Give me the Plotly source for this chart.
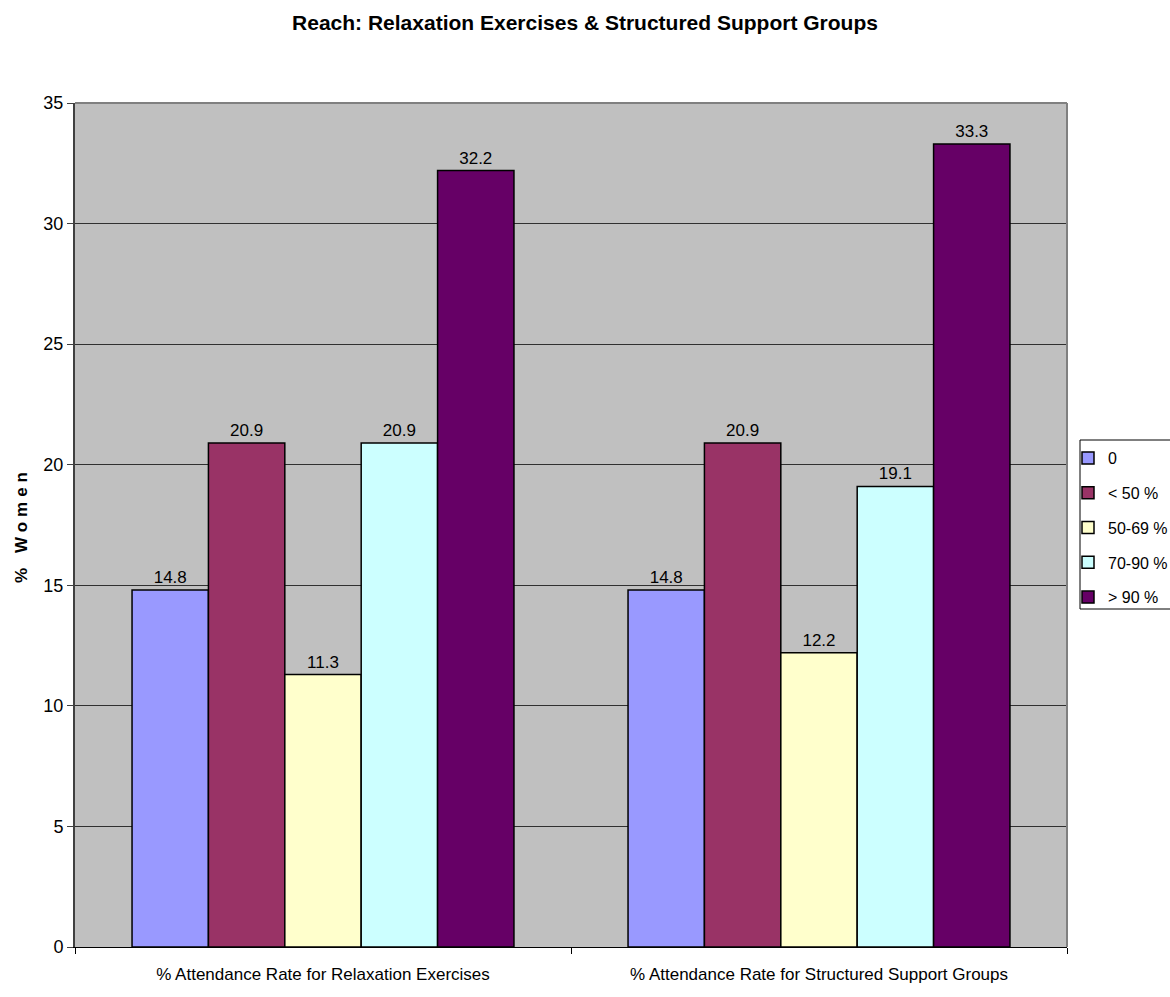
import plotly.graph_objects as go

categories = ["% Attendance Rate for Relaxation Exercises",
              "% Attendance Rate for Structured Support Groups"]
series_names = ["0", "< 50 %", "50-69 %", "70-90 %", "> 90 %"]
values_0 = [14.8, 14.8]
values_lt50 = [20.9, 20.9]
values_50_69 = [11.3, 12.2]
values_70_90 = [20.9, 19.1]
values_gt90 = [32.2, 33.3]
y_ticks = [0, 5, 10, 15, 20, 25, 30, 35]

series_values = [values_0, values_lt50, values_50_69, values_70_90, values_gt90]
colors = ["#9999FF", "#993366", "#FFFFCC", "#CCFFFF", "#660066"]

FONT = "Liberation Sans, Arial, sans-serif"

fig = go.Figure()
for name, vals, col in zip(series_names, series_values, colors):
    fig.add_trace(go.Bar(
        x=categories, y=vals, name=name, legendgroup=name,
        marker=dict(color=col, line=dict(color="black", width=1.5)),
        text=[f"{v:.1f}" for v in vals], textposition="outside",
        textfont=dict(family=FONT, size=17, color="black"),
        cliponaxis=False,
    ))

# figure is wider than the 1170px window so the legend box is clipped at the right edge
W = 1210
L, R, T, B = 75, 143, 103, 50
PW = W - L - R          # 992
PH = 997 - T - B        # 844

def px_x(x):
    return (x - L) / PW

def px_y(y):
    return (997 - B - y) / PH

fig.update_layout(
    width=W, height=997, autosize=False,
    barmode="group", bargap=0.23, bargroupgap=0,
    plot_bgcolor="#C0C0C0", paper_bgcolor="white",
    margin=dict(l=L, r=R, t=T, b=B),
    font=dict(family=FONT, size=17, color="black"),
    title=dict(text="<b>Reach: Relaxation Exercises & Structured Support Groups</b>",
               x=585 / W, xanchor="center", y=0.977, yanchor="middle",
               font=dict(size=21)),
    legend=dict(x=px_x(1068), y=px_y(441), xanchor="left", yanchor="top",
                borderwidth=0, bgcolor="rgba(0,0,0,0)",
                font=dict(size=16), tracegroupgap=11, itemwidth=30),
    showlegend=True,
)
fig.update_yaxes(
    range=[0, 35], tickvals=y_ticks, showgrid=True, gridcolor="#303030", gridwidth=1,
    showline=True, linecolor="#404040", linewidth=2, ticks="outside", ticklen=6,
    tickcolor="#404040", mirror=False, zeroline=False,
    title=dict(text="<b>% Women</b>", font=dict(size=17), standoff=11),
    tickfont=dict(size=18),
)
fig.update_xaxes(
    showline=True, linecolor="black", linewidth=1, ticks="outside", ticklen=6,
    tickson="boundaries", tickcolor="black", tickfont=dict(size=17),
    ticklabelstandoff=12,
)
# plot area frame (top and right)
fig.add_shape(type="line", xref="paper", yref="paper", x0=0, x1=1, y0=1, y1=1,
              line=dict(color="#808080", width=2))
fig.add_shape(type="line", xref="paper", yref="paper", x0=1, x1=1, y0=0, y1=1,
              line=dict(color="#808080", width=2))
# legend frame
fig.add_shape(type="rect", xref="paper", yref="paper",
              x0=px_x(1080), x1=px_x(1200), y0=px_y(609), y1=px_y(440),
              line=dict(color="black", width=1), fillcolor="white", layer="below")

post = """
document.body.style.margin='0';
document.body.style.overflow='hidden';
document.documentElement.style.overflow='hidden';
var t=document.querySelector('.ytitle'); if(t){t.style.letterSpacing='5px';}
"""
fig.write_html("out.html", post_script=post, config={"displayModeBar": False})
